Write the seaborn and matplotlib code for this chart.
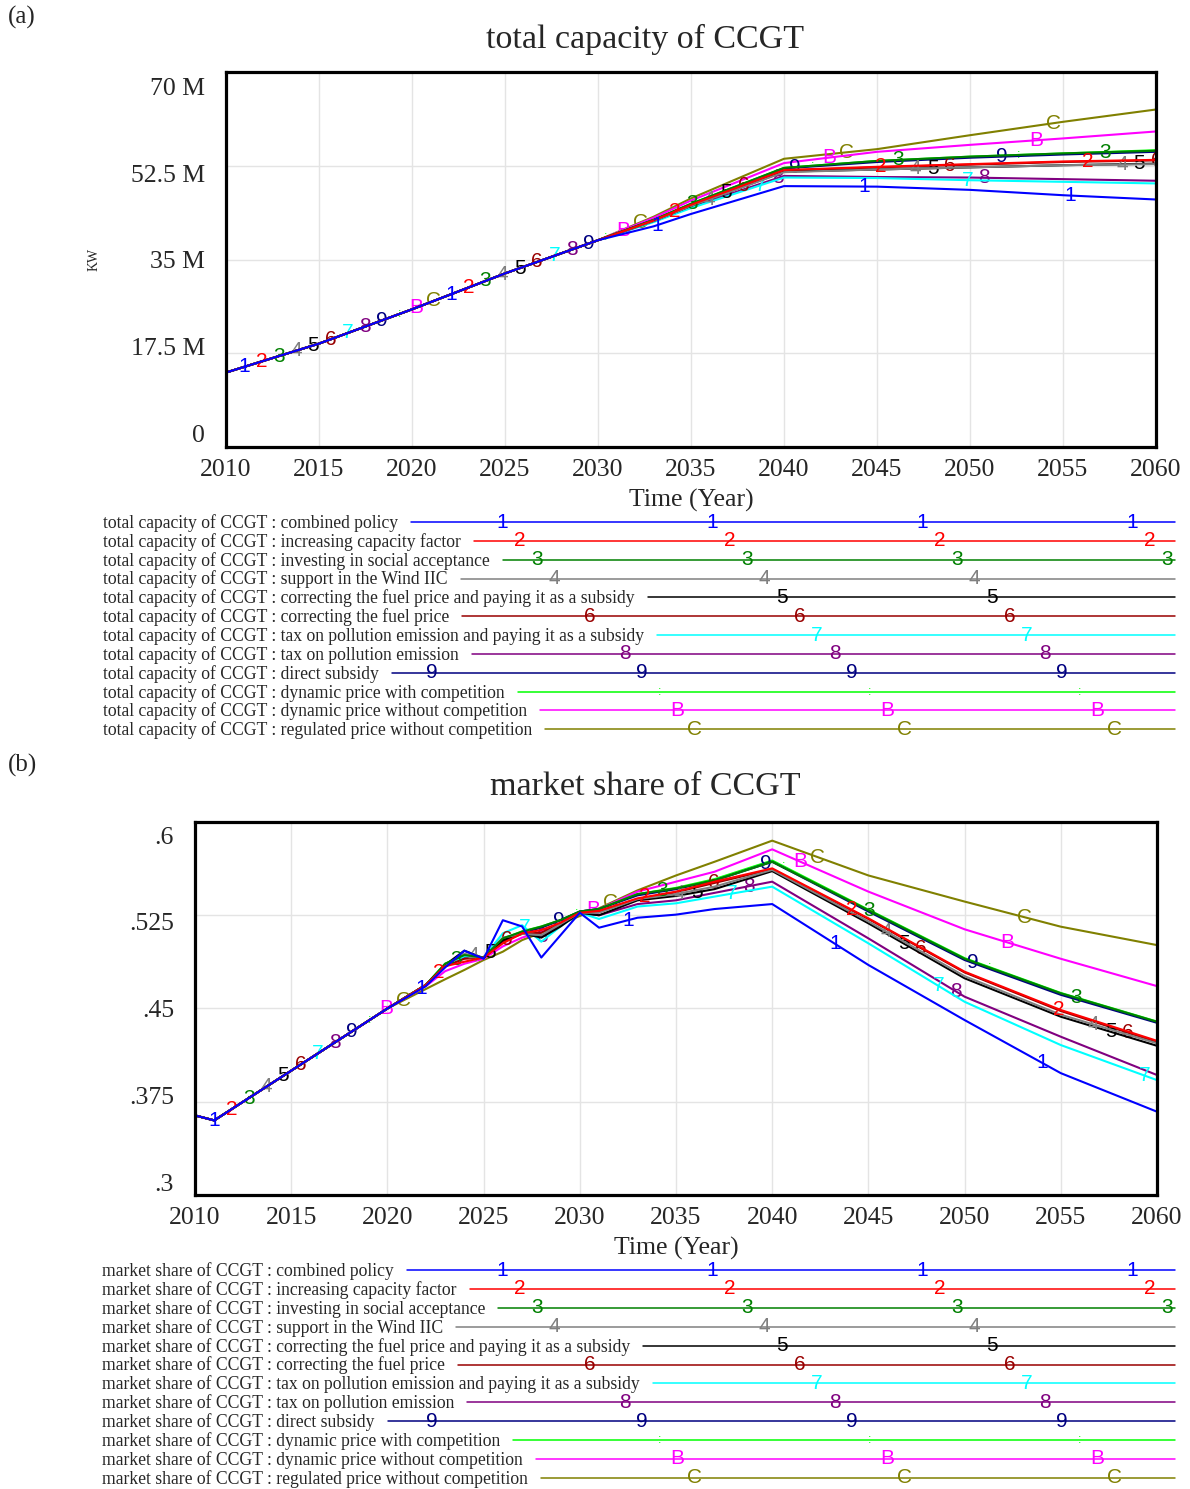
import numpy as np
import pandas as pd
import matplotlib
matplotlib.use("Agg")
import matplotlib.pyplot as plt
import matplotlib.transforms as mtransforms
from matplotlib.lines import Line2D
import seaborn as sns

sns.set_theme(style="white")
plt.rcParams['font.family'] = ['Liberation Serif', 'DejaVu Serif']

# ---------------------------------------------------------------- scenarios
SCENARIOS = [
    "combined policy",
    "increasing capacity factor",
    "investing in social acceptance",
    "support in the Wind IIC",
    "correcting the fuel price and paying it as a subsidy",
    "correcting the fuel price",
    "tax on pollution emission and paying it as a subsidy",
    "tax on pollution emission",
    "direct subsidy",
    "dynamic price with competition",
    "dynamic price without competition",
    "regulated price without competition",
]
TAGS = ["1", "2", "3", "4", "5", "6", "7", "8", "9", ":", "B", "C"]
COLORS = ["#0000FF", "#FF0000", "#008000", "#808080", "#000000", "#990000",
          "#00FFFF", "#800080", "#000080", "#00FF00", "#FF00FF", "#808000"]

# ------------------------------------------- total capacity of CCGT (million kW)
CAP_YEARS = [2010, 2015, 2020, 2025, 2030, 2033, 2035, 2040, 2045, 2050, 2055, 2060]
cap_combined       = [13.9, 19.3, 25.7, 32.4, 38.6, 41.2, 43.5, 48.7, 48.6, 48.0, 47.0, 46.2]
cap_capacity_fac   = [13.9, 19.3, 25.7, 32.4, 38.6, 42.3, 45.2, 51.7, 52.3, 52.8, 53.3, 53.6]
cap_social_accept  = [13.9, 19.3, 25.7, 32.4, 38.6, 42.4, 45.4, 52.1, 53.4, 54.2, 54.8, 55.3]
cap_wind_iic       = [13.9, 19.3, 25.7, 32.4, 38.6, 42.2, 45.0, 51.3, 51.8, 52.2, 52.6, 52.8]
cap_fuel_subsidy   = [13.9, 19.3, 25.7, 32.4, 38.6, 42.2, 45.0, 51.4, 51.8, 52.2, 52.6, 52.9]
cap_fuel_price     = [13.9, 19.3, 25.7, 32.4, 38.6, 42.3, 45.1, 51.6, 52.2, 52.7, 53.2, 53.5]
cap_tax_subsidy    = [13.9, 19.3, 25.7, 32.4, 38.6, 42.0, 44.6, 50.3, 50.2, 49.8, 49.5, 49.2]
cap_tax            = [13.9, 19.3, 25.7, 32.4, 38.6, 42.1, 44.8, 50.6, 50.4, 50.3, 50.0, 49.7]
cap_direct_subsidy = [13.9, 19.3, 25.7, 32.4, 38.6, 42.4, 45.3, 52.0, 53.2, 54.0, 54.6, 55.1]
cap_dyn_comp       = [13.9, 19.3, 25.7, 32.4, 38.6, 42.4, 45.4, 52.1, 53.4, 54.2, 54.8, 55.4]
cap_dyn_no_comp    = [13.9, 19.3, 25.7, 32.4, 38.6, 42.8, 46.0, 53.0, 55.1, 56.4, 57.6, 58.9]
cap_regulated      = [13.9, 19.3, 25.7, 32.4, 38.6, 43.0, 46.4, 53.8, 55.6, 58.2, 60.7, 63.0]
CAP_SERIES = [cap_combined, cap_capacity_fac, cap_social_accept, cap_wind_iic,
              cap_fuel_subsidy, cap_fuel_price, cap_tax_subsidy, cap_tax,
              cap_direct_subsidy, cap_dyn_comp, cap_dyn_no_comp, cap_regulated]
CAP_TICKS = [0, 17.5, 35, 52.5, 70]
CAP_TICK_LABELS = ["0", "17.5 M", "35 M", "52.5 M", "70 M"]

# ------------------------------------------------------ market share of CCGT
SHARE_YEARS = [2010, 2011, 2020, 2022, 2023, 2024, 2025, 2026, 2027, 2028, 2029,
               2030, 2031, 2033, 2035, 2037, 2040, 2045, 2050, 2055, 2060]
sh_combined       = [0.364, 0.360, 0.450, 0.468, 0.483, 0.4965, 0.490, 0.521, 0.516, 0.491, 0.509,
                     0.527, 0.515, 0.523, 0.5255, 0.530, 0.534, 0.485, 0.4407, 0.398, 0.367]
sh_capacity_fac   = [0.364, 0.360, 0.450, 0.469, 0.484, 0.4876, 0.491, 0.5024, 0.5105, 0.5131, 0.519,
                     0.527, 0.5285, 0.5386, 0.544, 0.552, 0.5627, 0.5225, 0.4796, 0.4488, 0.424]
sh_social_accept  = [0.364, 0.360, 0.450, 0.469, 0.486, 0.493, 0.491, 0.5064, 0.5118, 0.5158, 0.5212,
                     0.528, 0.530, 0.542, 0.5466, 0.553, 0.568, 0.529, 0.490, 0.4622, 0.4393]
sh_wind_iic       = [0.364, 0.360, 0.450, 0.469, 0.484, 0.494, 0.491, 0.507, 0.510, 0.509, 0.518,
                     0.527, 0.527, 0.538, 0.542, 0.548, 0.5615, 0.520, 0.476, 0.445, 0.422]
sh_fuel_subsidy   = [0.364, 0.360, 0.450, 0.469, 0.485, 0.4965, 0.4905, 0.505, 0.5105, 0.507, 0.516,
                     0.527, 0.525, 0.537, 0.5405, 0.546, 0.5605, 0.5185, 0.4743, 0.4434, 0.420]
sh_fuel_price     = [0.364, 0.360, 0.450, 0.469, 0.484, 0.490, 0.491, 0.504, 0.510, 0.511, 0.518,
                     0.527, 0.528, 0.538, 0.5435, 0.551, 0.562, 0.522, 0.479, 0.448, 0.423]
sh_tax_subsidy    = [0.364, 0.360, 0.450, 0.469, 0.484, 0.492, 0.491, 0.5105, 0.517, 0.5037, 0.516,
                     0.527, 0.522, 0.532, 0.5346, 0.540, 0.548, 0.5024, 0.4554, 0.4206, 0.3924]
sh_tax            = [0.364, 0.360, 0.450, 0.469, 0.484, 0.491, 0.491, 0.506, 0.5105, 0.508, 0.517,
                     0.527, 0.525, 0.534, 0.537, 0.543, 0.552, 0.5064, 0.4595, 0.4273, 0.3965]
sh_direct_subsidy = [0.364, 0.360, 0.450, 0.469, 0.485, 0.492, 0.491, 0.506, 0.511, 0.515, 0.521,
                     0.528, 0.530, 0.541, 0.546, 0.553, 0.568, 0.528, 0.489, 0.461, 0.4385]
sh_dyn_comp       = [0.364, 0.360, 0.450, 0.469, 0.486, 0.493, 0.491, 0.506, 0.512, 0.516, 0.521,
                     0.528, 0.530, 0.542, 0.547, 0.554, 0.569, 0.5295, 0.4905, 0.4625, 0.4395]
sh_dyn_no_comp    = [0.364, 0.360, 0.450, 0.468, 0.480, 0.486, 0.490, 0.500, 0.507, 0.512, 0.519,
                     0.528, 0.530, 0.544, 0.552, 0.560, 0.578, 0.544, 0.5137, 0.490, 0.468]
sh_regulated      = [0.364, 0.360, 0.450, 0.4657, 0.4735, 0.481, 0.489, 0.4957, 0.505, 0.511, 0.518,
                     0.5244, 0.5306, 0.545, 0.557, 0.568, 0.585, 0.557, 0.536, 0.5158, 0.501]
SHARE_SERIES = [sh_combined, sh_capacity_fac, sh_social_accept, sh_wind_iic,
                sh_fuel_subsidy, sh_fuel_price, sh_tax_subsidy, sh_tax,
                sh_direct_subsidy, sh_dyn_comp, sh_dyn_no_comp, sh_regulated]
SHARE_TICKS = [0.3, 0.375, 0.45, 0.525, 0.6]
SHARE_TICK_LABELS = [".3", ".375", ".45", ".525", ".6"]

X_TICKS = list(range(2010, 2061, 5))

# ------------------------------------------------------------------ figure
W, H = 1190, 1489
DPI = 100
fig = plt.figure(figsize=(W / DPI, H / DPI), dpi=DPI)
fig.patch.set_facecolor("white")


def fx(px):
    return px / W


def fy(py):
    return 1 - py / H


SANS = ["Liberation Sans", "DejaVu Sans"]
TICK_FS = 18.5
MARK_FS = 15
LEGEND_FS = 12.7


def series_z(i):
    # the first scenario is drawn last, so it sits on top
    return 2 + (12 - i) * 0.1


def draw_panel(ax, years, series, yticks, ytick_labels, ylim, marker_step, label_shift_px):
    frames = [pd.DataFrame({"year": years, "value": vals, "scenario": name})
              for name, vals in zip(SCENARIOS, series)]
    df = pd.concat(frames, ignore_index=True)
    sns.lineplot(data=df, x="year", y="value", hue="scenario", hue_order=SCENARIOS,
                 palette=COLORS, legend=False, ax=ax, linewidth=1.5,
                 estimator=None, sort=False)
    for i, line in enumerate(ax.lines):
        line.set_zorder(series_z(i))
        line.set_solid_joinstyle("round")

    # numbered series markers along the curves
    n = 0
    while True:
        yr = 2011 + n * marker_step
        if yr > 2060.3:
            break
        i = n % 12
        val = np.interp(yr, years, series[i])
        ax.text(yr, val, TAGS[i], color=COLORS[i], ha="center", va="center",
                fontsize=MARK_FS if TAGS[i] != ":" else 9, family=SANS,
                zorder=series_z(i) + 0.05, clip_on=True)
        n += 1

    ax.set_xlim(2010, 2060)
    ax.set_ylim(*ylim)
    ax.set_xticks(X_TICKS)
    ax.set_xticklabels([str(t) for t in X_TICKS], fontsize=TICK_FS)
    ax.set_yticks(yticks)
    ax.set_yticklabels([])
    ax.tick_params(axis="both", length=0)
    ax.tick_params(axis="x", pad=9)
    ax.grid(True, color="#e4e4e4", linewidth=1.0)
    ax.set_axisbelow(True)
    for sp in ax.spines.values():
        sp.set_visible(True)
        sp.set_color("black")
        sp.set_linewidth(2.3)
        sp.set_zorder(10)
    ax.set_facecolor("white")

    # y tick labels, spread evenly a little inside the frame
    blend = mtransforms.blended_transform_factory(ax.transAxes, ax.transData)
    for v, lab, dy in zip(yticks, ytick_labels, label_shift_px):
        tr = blend + mtransforms.ScaledTranslation(-21 / DPI, dy / DPI, fig.dpi_scale_trans)
        ax.text(0, v, lab, transform=tr, ha="right", va="center", fontsize=TICK_FS)

    ax.set_xlabel("Time (Year)", fontsize=TICK_FS, labelpad=5)
    ax.set_ylabel("")


def draw_legend(prefix, row0, row_step, x_text):
    texts = []
    for k, name in enumerate(SCENARIOS):
        t = fig.text(fx(x_text), fy(row0 + k * row_step), f"{prefix} : {name}",
                     ha="left", va="center", fontsize=LEGEND_FS)
        texts.append(t)
    fig.canvas.draw()
    renderer = fig.canvas.get_renderer()
    for k, t in enumerate(texts):
        bb = t.get_window_extent(renderer)
        x_start = bb.x1 + 13
        x_end = 1175
        y = row0 + k * row_step - 1
        fig.add_artist(Line2D([fx(x_start), fx(x_end)], [fy(y), fy(y)],
                              transform=fig.transFigure, color=COLORS[k], linewidth=1.1))
        base = (82 + 17.5 * k) % 210
        for m in range(7):
            xm = base + 210 * m
            if x_start <= xm <= x_end:
                fig.text(fx(xm), fy(y), TAGS[k], color=COLORS[k], ha="center", va="center",
                         fontsize=MARK_FS if TAGS[k] != ":" else 9, family=SANS)


# ---------------------------------------------------------------- panel (a)
ax_top = fig.add_axes([fx(226), fy(447), (1156 - 226) / W, (447 - 72) / H])
draw_panel(ax_top, CAP_YEARS, CAP_SERIES, CAP_TICKS, CAP_TICK_LABELS, (0, 70),
           0.925, [11, 4, -3, -10, -17])
ax_top.set_ylabel("KW", fontsize=10)
ax_top.yaxis.set_label_coords((101 - 226) / 930, 0.5)
fig.text(fx(8), fy(17), "(a)", ha="left", va="center", fontsize=18)
fig.text(fx(645), fy(39), "total capacity of CCGT", ha="center", va="center", fontsize=24.5)

# ---------------------------------------------------------------- panel (b)
ax_bot = fig.add_axes([fx(195), fy(1195), (1157 - 195) / W, (1195 - 822) / H])
draw_panel(ax_bot, SHARE_YEARS, SHARE_SERIES, SHARE_TICKS, SHARE_TICK_LABELS, (0.3, 0.6),
           0.896, [10, 4, -3, -9, -16])
fig.text(fx(8), fy(765), "(b)", ha="left", va="center", fontsize=18)
fig.text(fx(645), fy(787), "market share of CCGT", ha="center", va="center", fontsize=24.5)

# ---------------------------------------------------------------- legends
draw_legend("total capacity of CCGT", 523, 18.85, 103)
draw_legend("market share of CCGT", 1271, 18.9, 102)

fig.savefig("out.png", dpi=DPI, facecolor="white")
